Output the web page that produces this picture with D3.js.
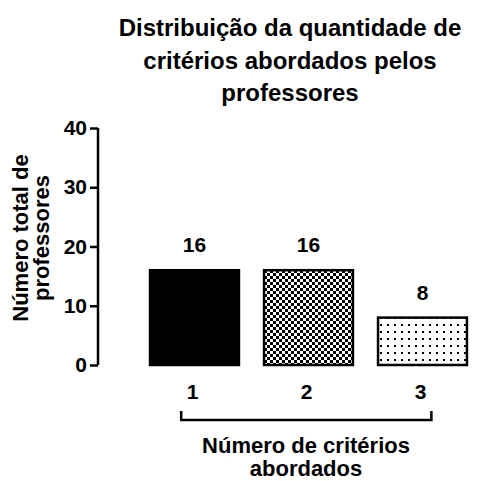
<!DOCTYPE html>
<html>
<head>
<meta charset="utf-8">
<script src="https://cdn.jsdelivr.net/npm/d3@7"></script>
<style>
  body { margin: 0; background: #fff; }
  text { font-family: "Liberation Sans", Arial, sans-serif; font-weight: bold; fill: #000; }
</style>
</head>
<body>
<div id="chart"></div>
<script>
var categories = ["1", "2", "3"];
var values = [16, 16, 8];
var yTicks = [0, 10, 20, 30, 40];
var fills = ["solid", "checker", "dots"];
var titleLines = ["Distribuição da quantidade de", "critérios abordados pelos", "professores"];
var yLabelLines = ["Número total de", "professores"];
var xLabelLines = ["Número de critérios", "abordados"];

var width = 488, height = 481;

var svg = d3.select("#chart").append("svg")
    .attr("width", width)
    .attr("height", height);

var defs = svg.append("defs");

// checkerboard pattern
var chk = defs.append("pattern")
    .attr("id", "checker")
    .attr("patternUnits", "userSpaceOnUse")
    .attr("width", 6).attr("height", 6);
chk.append("rect").attr("width", 6).attr("height", 6).attr("fill", "#fff");
chk.append("rect").attr("width", 3).attr("height", 3).attr("fill", "#000");
chk.append("rect").attr("x", 3).attr("y", 3).attr("width", 3).attr("height", 3).attr("fill", "#000");

// dotted pattern
var dot = defs.append("pattern")
    .attr("id", "dots")
    .attr("patternUnits", "userSpaceOnUse")
    .attr("width", 7).attr("height", 7);
dot.append("rect").attr("width", 7).attr("height", 7).attr("fill", "#fff");
dot.append("rect").attr("x", 2).attr("y", 2).attr("width", 2).attr("height", 2).attr("fill", "#000");

var x = d3.scaleBand()
    .domain(categories)
    .range([137.5, 479.5])
    .paddingInner(0.22)
    .paddingOuter(0.11);

var y = d3.scaleLinear()
    .domain([0, 40])
    .range([365, 128]);

// title
svg.append("g").selectAll("text")
    .data(titleLines)
    .enter().append("text")
    .attr("x", 290)
    .attr("y", function (d, i) { return 36 + i * 32.5 })
    .attr("text-anchor", "middle")
    .style("font-size", "24px")
    .text(function (d) { return d });

// bars
svg.append("g").selectAll("rect")
    .data(values)
    .enter().append("rect")
    .attr("x", function (d, i) { return x(categories[i]) })
    .attr("y", function (d) { return y(d) })
    .attr("width", x.bandwidth())
    .attr("height", function (d) { return y(0) - y(d) })
    .attr("fill", function (d, i) {
        return fills[i] === "solid" ? "#000" : "url(#" + fills[i] + ")"
    })
    .attr("stroke", "#000")
    .attr("stroke-width", 2.5);

// value labels
svg.append("g").selectAll("text")
    .data(values)
    .enter().append("text")
    .attr("x", function (d, i) { return x(categories[i]) + x.bandwidth() / 2 })
    .attr("y", function (d) { return y(d) - 18 })
    .attr("text-anchor", "middle")
    .style("font-size", "21px")
    .text(function (d) { return d });

// y axis
var yAxis = svg.append("g")
    .attr("transform", "translate(98,0)")
    .call(d3.axisLeft(y).tickValues(yTicks).tickSize(8).tickPadding(3));
yAxis.select(".domain").attr("stroke-width", 2.5).attr("d", "M0," + y(40) + "V" + y(0));
yAxis.selectAll(".tick line").attr("stroke-width", 2.5);
yAxis.selectAll(".tick text")
    .style("font-size", "21px")
    .style("font-family", "'Liberation Sans', Arial, sans-serif")
    .style("font-weight", "bold");

// x tick labels
svg.append("g").selectAll("text")
    .data(categories)
    .enter().append("text")
    .attr("x", function (d) { return x(d) + x.bandwidth() / 2 - 2 })
    .attr("y", 399)
    .attr("text-anchor", "middle")
    .style("font-size", "21px")
    .text(function (d) { return d });

// bracket under the categories
var bx0 = x(categories[0]) + x.bandwidth() * 0.35,
    bx1 = x(categories[categories.length - 1]) + x.bandwidth() * 0.6;
svg.append("path")
    .attr("d", "M" + bx0 + ",411V420H" + bx1 + "V411")
    .attr("fill", "none")
    .attr("stroke", "#000")
    .attr("stroke-width", 2.5);

// x title
svg.append("g").selectAll("text")
    .data(xLabelLines)
    .enter().append("text")
    .attr("x", 306)
    .attr("y", function (d, i) { return 453 + i * 23 })
    .attr("text-anchor", "middle")
    .style("font-size", "22px")
    .text(function (d) { return d });

// y title
svg.append("g").selectAll("text")
    .data(yLabelLines)
    .enter().append("text")
    .attr("transform", function (d, i) {
        return "translate(" + (28 + i * 21) + ",238) rotate(-90)"
    })
    .attr("text-anchor", "middle")
    .style("font-size", "22px")
    .text(function (d) { return d });
</script>
</body>
</html>
